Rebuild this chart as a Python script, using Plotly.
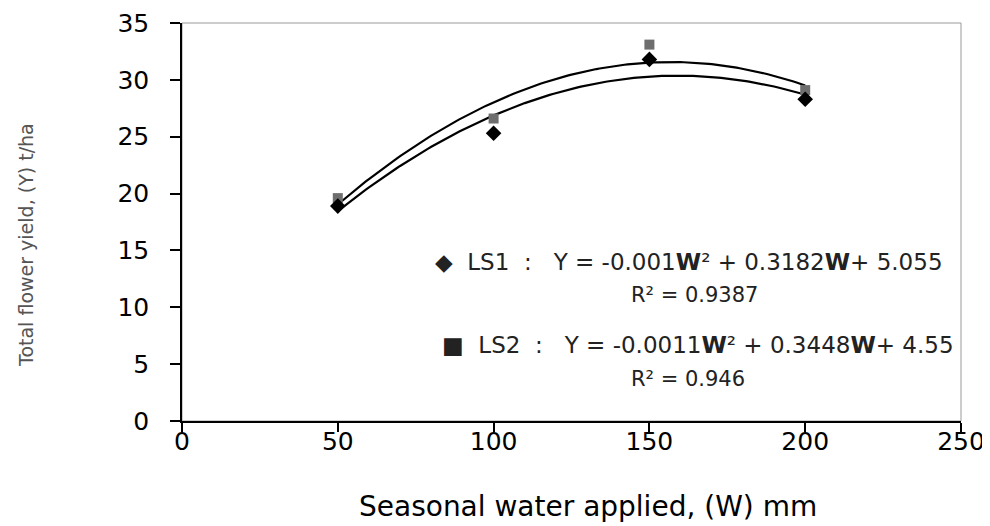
import numpy as np
import plotly.graph_objects as go

# Data
water = [50, 100, 150, 200]
ls1_yield = [18.9, 25.3, 31.8, 28.3]
ls2_yield = [19.6, 26.6, 33.1, 29.1]

# Trendline coefficients shown on the chart (a*W^2 + b*W + c)
ls1_coef = [-0.001, 0.3182, 5.055]
ls2_coef = [-0.0011, 0.3448, 4.55]

x_ticks = [0, 50, 100, 150, 200, 250]
y_ticks = [0, 5, 10, 15, 20, 25, 30, 35]

x_title = "Seasonal water applied, (W) mm"
y_title = "Total flower yield, (Y) t/ha"

w_fit = np.linspace(min(water), max(water), 151)
ls1_fit = np.polyval(ls1_coef, w_fit)
ls2_fit = np.polyval(ls2_coef, w_fit)

FONT = "DejaVu Sans, Liberation Sans, Arial, sans-serif"

fig = go.Figure()
fig.add_trace(go.Scatter(x=w_fit, y=ls1_fit, mode="lines",
                         line=dict(color="black", width=2.2), showlegend=False, hoverinfo="skip"))
fig.add_trace(go.Scatter(x=w_fit, y=ls2_fit, mode="lines",
                         line=dict(color="black", width=2.2), showlegend=False, hoverinfo="skip"))
fig.add_trace(go.Scatter(x=water, y=ls2_yield, mode="markers", name="LS2",
                         marker=dict(symbol="square", size=10, color="#6e6e6e"), showlegend=False))
fig.add_trace(go.Scatter(x=water, y=ls1_yield, mode="markers", name="LS1",
                         marker=dict(symbol="diamond", size=12, color="black"), showlegend=False))

# The page body has an 8px margin: the figure starts at (8, 8) on the page,
# so every reference pixel position is shifted by OFF.
OFF = 8
FW, FH = 990 - OFF, 526 - OFF
L, R, T, B = 174, 29, 15, 105
pw, ph = FW - L - R, FH - T - B


def px_to_paper(x, y):
    x, y = x - OFF, y - OFF
    return (x - L) / pw, 1 - (y - T) / ph


eq_font = dict(family=FONT, size=23, color="#222222")
r2_font = dict(family=FONT, size=21, color="#222222")
W = "<b>W</b>"
anns = [
    (433, 262, f"◆  LS1  :   Y = -0.001{W}² + 0.3182{W}+ 5.055", "left", eq_font),
    (694, 295, "R² = 0.9387", "center", r2_font),
    (440, 345, f"■  LS2  :   Y = -0.0011{W}² + 0.3448{W}+ 4.55", "left", eq_font),
    (688, 379, "R² = 0.946", "center", r2_font),
]
annotations = []
for x, y, text, anchor, fnt in anns:
    px, py = px_to_paper(x, y)
    annotations.append(dict(x=px, y=py, xref="paper", yref="paper", text=text,
                            showarrow=False, xanchor=anchor, yanchor="middle", font=fnt))

# axis titles
px, py = px_to_paper(588, 506)
annotations.append(dict(x=px, y=py, xref="paper", yref="paper", text=x_title, showarrow=False,
                        xanchor="center", yanchor="middle",
                        font=dict(family=FONT, size=28, color="black")))
px, py = px_to_paper(26, 245)
annotations.append(dict(x=px, y=py, xref="paper", yref="paper", text=y_title, showarrow=False,
                        xanchor="center", yanchor="middle", textangle=-90,
                        font=dict(family=FONT, size=19, color="#555555")))

fig.update_layout(
    width=FW, height=FH,
    margin=dict(l=L, r=R, t=T, b=B, autoexpand=False),
    paper_bgcolor="white", plot_bgcolor="white",
    font=dict(family=FONT, color="black"),
    annotations=annotations,
    shapes=[dict(type="rect", xref="paper", yref="paper", x0=0, y0=0, x1=1, y1=1,
                 line=dict(color="#9a9a9a", width=1), layer="below")],
    xaxis=dict(range=[0, 250], tickvals=x_ticks, ticks="outside", ticklen=9, tickwidth=1.5,
               tickcolor="black", showline=True, linecolor="black", linewidth=1.5,
               showgrid=False, zeroline=False, tickfont=dict(size=25, color="black"),
               ticklabelstandoff=-12, automargin=False, ticklabeloverflow="allow"),
    yaxis=dict(range=[0, 35], tickvals=y_ticks, ticks="outside", ticklen=10, tickwidth=1.5,
               tickcolor="black", showline=True, linecolor="black", linewidth=1.5,
               showgrid=False, zeroline=False, tickfont=dict(size=25, color="black"),
               ticklabelstandoff=16, automargin=False, ticklabeloverflow="allow"),
)

fig.write_html("out.html")
